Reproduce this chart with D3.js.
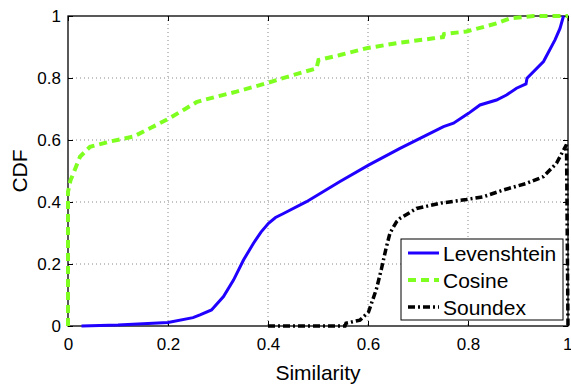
<!DOCTYPE html>
<html>
<head>
<meta charset="utf-8">
<script src="https://cdn.jsdelivr.net/npm/d3@7"></script>
<style>
  body { margin: 0; background: #fff; }
  text { font-family: "Liberation Sans", Arial, Helvetica, sans-serif; fill: #000; }
</style>
</head>
<body>
<div id="chart"></div>
<script>
// values
const levX = [0.027, 0.1, 0.2, 0.25, 0.264, 0.287, 0.311, 0.331, 0.351, 0.371, 0.386, 0.401, 0.415, 0.431, 0.477, 0.544, 0.601, 0.664, 0.717, 0.751, 0.771, 0.801, 0.824, 0.857, 0.877, 0.897, 0.916, 0.918, 0.951, 0.974, 0.984, 0.991];
const levY = [0, 0.003, 0.011, 0.027, 0.036, 0.052, 0.095, 0.148, 0.213, 0.267, 0.303, 0.331, 0.35, 0.363, 0.401, 0.466, 0.519, 0.573, 0.616, 0.643, 0.654, 0.686, 0.713, 0.729, 0.745, 0.767, 0.781, 0.799, 0.853, 0.923, 0.96, 1.0];

const cosX = [0, 0, 0.005, 0.011, 0.024, 0.044, 0.084, 0.131, 0.164, 0.197, 0.231, 0.257, 0.271, 0.337, 0.397, 0.451, 0.497, 0.501, 0.544, 0.597, 0.664, 0.731, 0.75, 0.752, 0.797, 0.857, 0.884, 0.931, 1.0];
const cosY = [0, 0.433, 0.47, 0.493, 0.546, 0.578, 0.595, 0.611, 0.638, 0.665, 0.697, 0.722, 0.729, 0.756, 0.783, 0.81, 0.831, 0.858, 0.874, 0.896, 0.914, 0.928, 0.932, 0.942, 0.95, 0.976, 0.992, 1.0, 1.0];

const sndX = [0.4, 0.554, 0.556, 0.584, 0.601, 0.617, 0.627, 0.636, 0.644, 0.657, 0.664, 0.697, 0.744, 0.797, 0.831, 0.871, 0.917, 0.951, 0.977, 0.997, 1.0];
const sndY = [0, 0, 0.009, 0.019, 0.045, 0.12, 0.185, 0.25, 0.3, 0.336, 0.347, 0.379, 0.396, 0.408, 0.417, 0.439, 0.46, 0.482, 0.525, 0.585, 0];

const ticks = [0, 0.2, 0.4, 0.6, 0.8, 1];
const tickLabels = ["0", "0.2", "0.4", "0.6", "0.8", "1"];
const seriesNames = ["Levenshtein", "Cosine", "Soundex"];

const W = 571, H = 384;
const margin = { top: 16, right: 3, bottom: 58, left: 68 };
const width = W - margin.left - margin.right,
      height = H - margin.top - margin.bottom;

const svg = d3.select("#chart").append("svg")
  .attr("width", W)
  .attr("height", H);
const g = svg.append("g")
  .attr("transform", `translate(${margin.left},${margin.top})`);

const x = d3.scaleLinear().domain([0, 1]).range([0, width]);
const y = d3.scaleLinear().domain([0, 1]).range([height, 0]);

// dotted grid
g.append("g").selectAll("line")
  .data(ticks.slice(1, -1))
  .join("line")
  .attr("x1", d => x(d)).attr("x2", d => x(d))
  .attr("y1", 0).attr("y2", height)
  .attr("stroke", "#888").attr("stroke-width", 1).attr("stroke-dasharray", "1,3");
g.append("g").selectAll("line")
  .data(ticks.slice(1, -1))
  .join("line")
  .attr("y1", d => y(d)).attr("y2", d => y(d))
  .attr("x1", 0).attr("x2", width)
  .attr("stroke", "#888").attr("stroke-width", 1).attr("stroke-dasharray", "1,3");

// axes, ticks pointing inward (matlab style)
const fmt = (d, i) => tickLabels[i];
const bottom = g.append("g").attr("transform", `translate(0,${height})`)
  .call(d3.axisBottom(x).tickValues(ticks).tickFormat(fmt).tickSizeInner(-5).tickSizeOuter(0).tickPadding(12));
const left = g.append("g")
  .call(d3.axisLeft(y).tickValues(ticks).tickFormat(fmt).tickSizeInner(-5).tickSizeOuter(0).tickPadding(7));
g.append("g")
  .call(d3.axisTop(x).tickValues(ticks).tickFormat("").tickSizeInner(-5).tickSizeOuter(0));
g.append("g").attr("transform", `translate(${width},0)`)
  .call(d3.axisRight(y).tickValues(ticks).tickFormat("").tickSizeInner(-5).tickSizeOuter(0));
g.selectAll(".domain").remove();
g.selectAll(".tick line").attr("stroke", "#000");
g.selectAll(".tick text").style("font-size", "17px");
// keep the last x label inside the window
bottom.selectAll(".tick text").filter((d, i) => i === ticks.length - 1)
  .attr("text-anchor", "end").attr("dx", "4");

g.append("rect")
  .attr("width", width).attr("height", height)
  .attr("fill", "none").attr("stroke", "#000").attr("stroke-width", 1.3);

// series
const line = d3.line().x(d => x(d[0])).y(d => y(d[1]));
const series = [
  { pts: d3.zip(levX, levY), color: "#2000ff", width: 3, dash: null },
  { pts: d3.zip(cosX, cosY), color: "#7fff1f", width: 4, dash: "8,5" },
  { pts: d3.zip(sndX, sndY), color: "#000", width: 3.5, dash: "7,3,2,3" }
];
g.selectAll("path.series")
  .data(series)
  .join("path")
  .attr("class", "series")
  .attr("d", d => line(d.pts))
  .attr("fill", "none")
  .attr("stroke", d => d.color)
  .attr("stroke-width", d => d.width)
  .attr("stroke-dasharray", d => d.dash);

// axis labels
svg.append("text")
  .attr("x", margin.left + width / 2).attr("y", 380)
  .attr("text-anchor", "middle")
  .style("font-size", "21px")
  .text("Similarity");
svg.append("text")
  .attr("transform", `translate(27,${margin.top + height / 2}) rotate(-90)`)
  .attr("text-anchor", "middle")
  .style("font-size", "21px")
  .text("CDF");

// legend
const lg = svg.append("g").attr("transform", "translate(401,239)");
lg.append("rect").attr("width", 162).attr("height", 81)
  .attr("fill", "#fff").attr("stroke", "#000").attr("stroke-width", 1);
const items = lg.selectAll("g.item")
  .data(series)
  .join("g")
  .attr("class", "item")
  .attr("transform", (d, i) => `translate(0,${14 + i * 27})`);
items.append("line")
  .attr("x1", 7).attr("x2", 38)
  .attr("stroke", d => d.color)
  .attr("stroke-width", d => d.width)
  .attr("stroke-dasharray", d => d.dash);
items.append("text")
  .attr("x", 42).attr("y", 7.5)
  .style("font-size", "21px")
  .text((d, i) => seriesNames[i]);
</script>
</body>
</html>
